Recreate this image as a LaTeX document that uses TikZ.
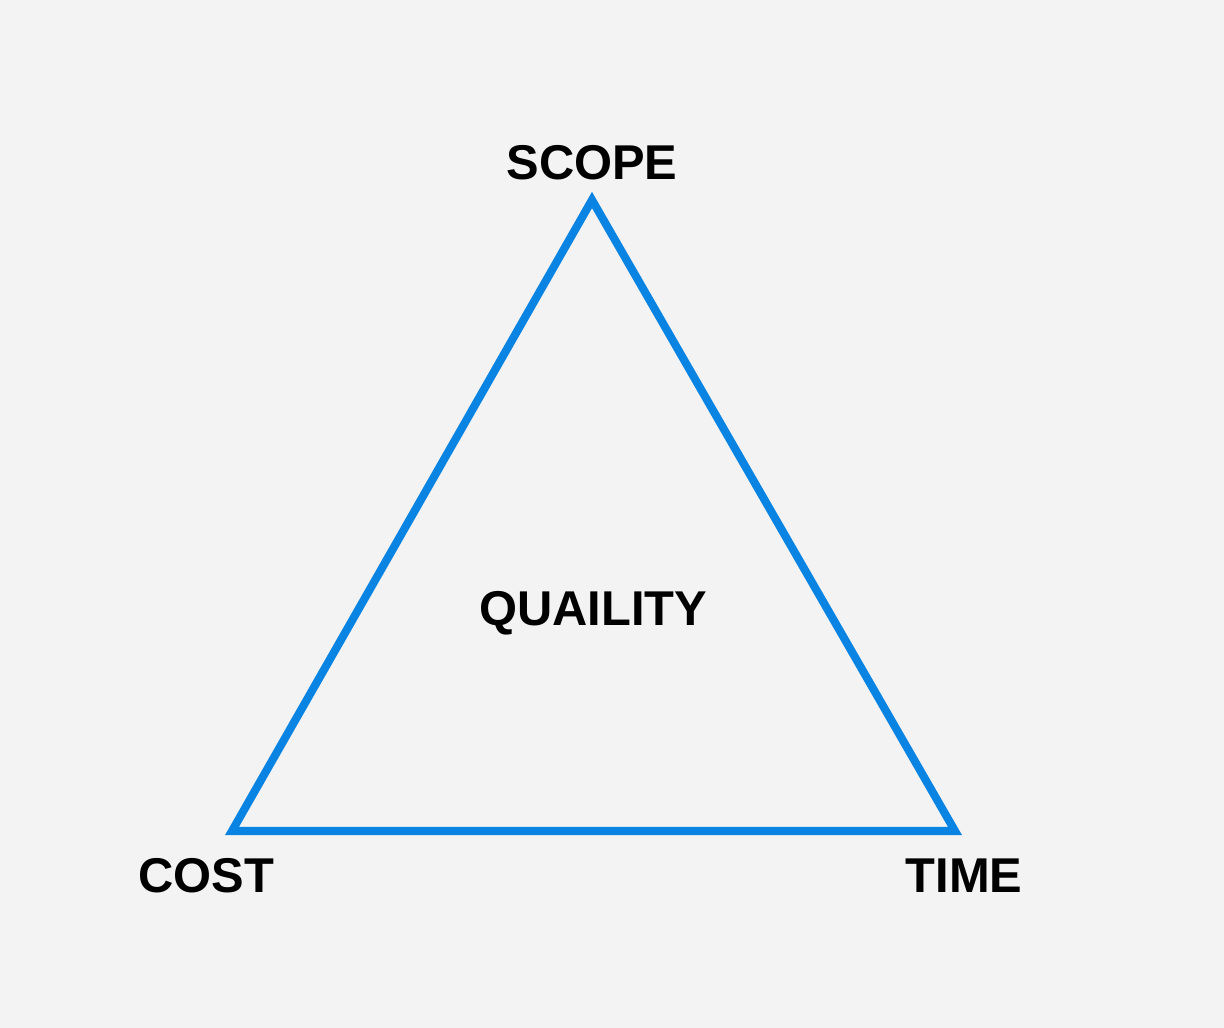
\documentclass[tikz,border=0pt]{standalone}
\usepackage{fontspec}
\setmainfont{Liberation Sans}
\definecolor{triblue}{RGB}{10,132,226}
\definecolor{paper}{RGB}{243,243,243}
\tikzset{
    corner/.style={font=\fontsize{13.9}{16}\selectfont\bfseries, inner sep=0pt, anchor=base},
    side/.style={draw=triblue, line width=2.3pt, line join=miter}
}
\begin{document}
\begin{tikzpicture}
        \fill[paper] (0,0) rectangle (12.24,10.28);
        \useasboundingbox (0,0) rectangle (12.24,10.28);

        \coordinate (top) at (5.92,8.28);
        \coordinate (left) at (2.32,1.97);
        \coordinate (right) at (9.55,1.97);

        \node[corner] (scope) at (5.92,8.48) {SCOPE};
        \node[corner] (cost) at (2.06,1.35) {COST};
        \node[corner] (time) at (9.64,1.35) {TIME};
        \node[corner] (quality) at (5.93,4.02) {QUAILITY};

        \draw[side] (top) -- (left) -- (right) -- cycle;
    \end{tikzpicture}
\end{document}
